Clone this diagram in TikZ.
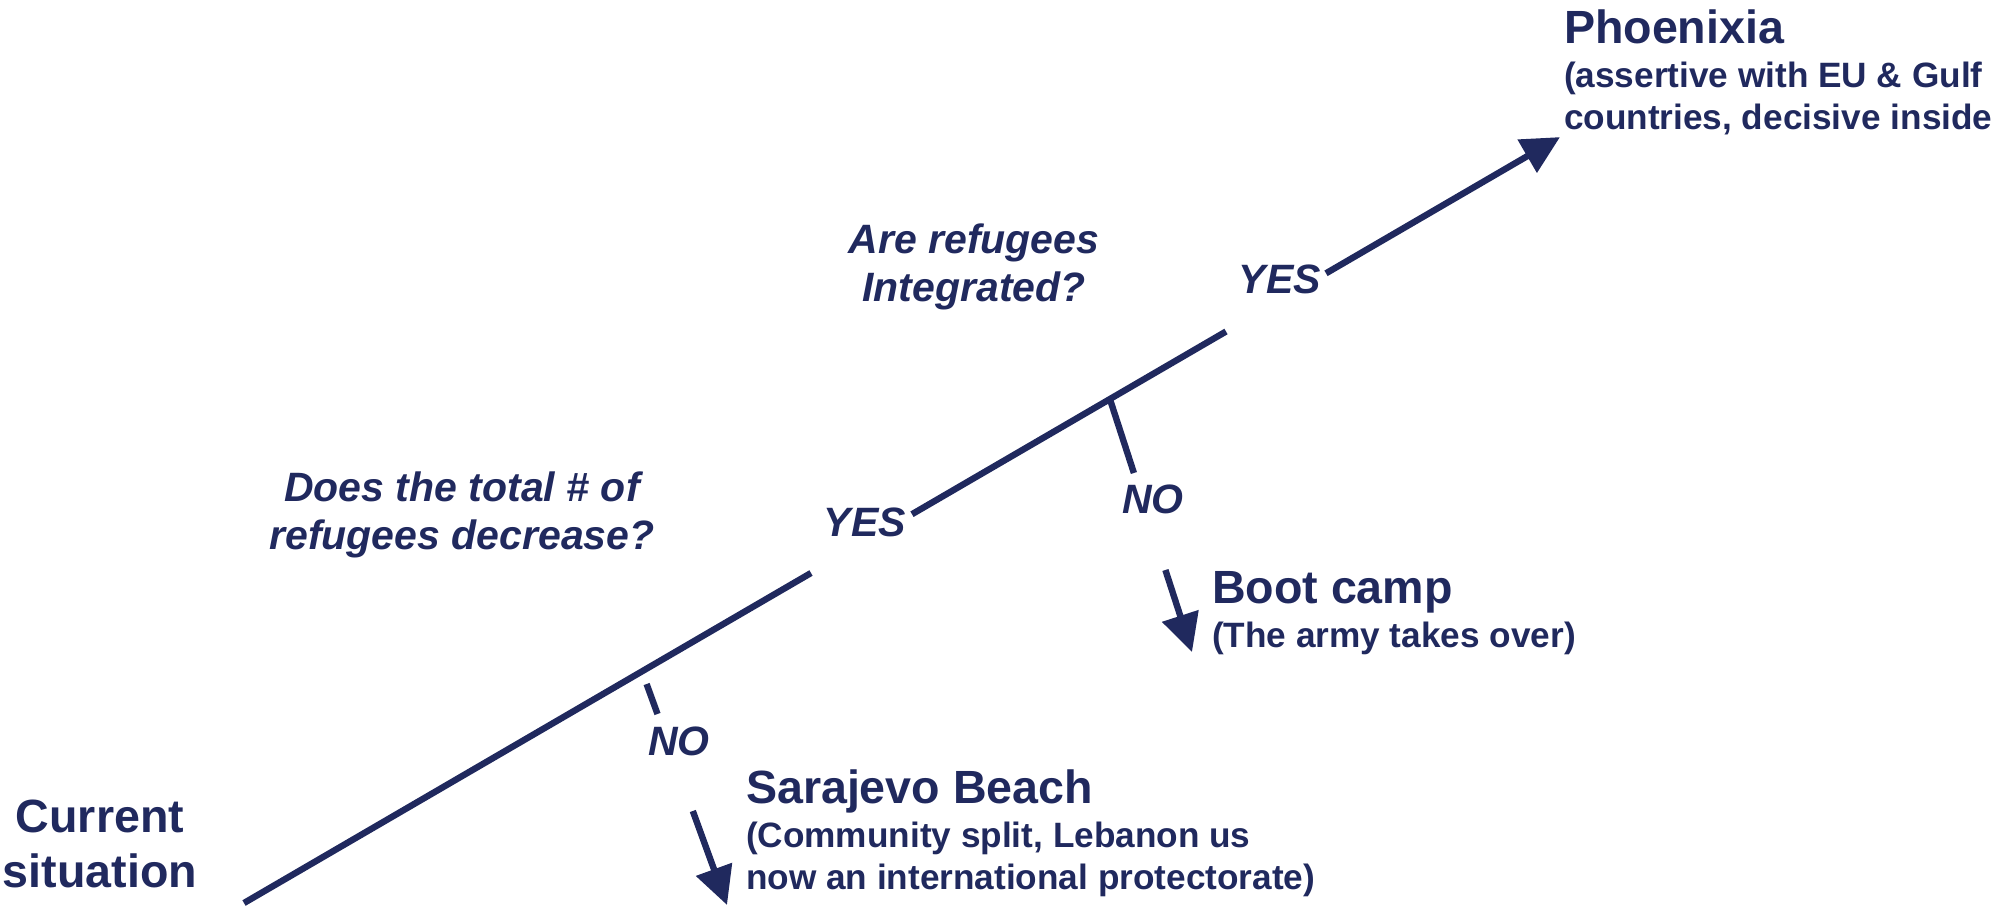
\documentclass[tikz,border=0pt]{standalone}
\usepackage{fontspec}
\setmainfont{Liberation Sans}
\usetikzlibrary{arrows.meta}
\definecolor{navy}{RGB}{32,41,94}
\begin{document}
\begin{tikzpicture}[x=0.5pt,y=-0.5pt,
  every node/.style={inner sep=0pt, outer sep=0pt, text=navy},
  branchline/.style={draw=navy, line width=3.2pt},
  arrowline/.style={draw=navy, line width=3.2pt, -{Triangle[length=19pt,width=18.5pt]}},
  titlefont/.style={font=\fontsize{23.3}{27.5}\selectfont\bfseries},
  qfont/.style={font=\fontsize{20.5}{24}\selectfont\bfseries\itshape},
  subfont/.style={font=\fontsize{17.6}{21}\selectfont\bfseries}]
\useasboundingbox (0,0) rectangle (1997,906);

% main line coordinates (y = 903 - 0.582 (x-244))
\coordinate (S)   at (244,903);
\coordinate (g1a) at (811,573);
\coordinate (g1b) at (912,514.2);
\coordinate (g2a) at (1226,331.5);
\coordinate (g2b) at (1326,273.3);
\coordinate (T)   at (1560,137.1);
% branch 1 (NO -> Sarajevo Beach)
\coordinate (n1a) at (646.6,684);
\coordinate (n1b) at (657.5,714);
\coordinate (n1c) at (692.8,811);
\coordinate (n1t) at (727,905);
% branch 2 (NO -> Boot camp)
\coordinate (B2)  at (1110,399.4);
\coordinate (n2b) at (1133.9,473);
\coordinate (n2c) at (1165.4,570);
\coordinate (n2t) at (1192,652);

\draw[branchline] (S) -- (g1a);
\draw[branchline] (g1b) -- (g2a);
\draw[arrowline] (g2b) -- (T);
\draw[branchline] (n1a) -- (n1b);
\draw[arrowline] (n1c) -- (n1t);
\draw[branchline] (B2) -- (n2b);
\draw[arrowline] (n2c) -- (n2t);

% texts
\node[titlefont, anchor=base] (cur) at (100,832)
  {\begin{tabular}[t]{@{}c@{}}Current\\situation\end{tabular}};

\node[qfont, anchor=base] (q1) at (462,501)
  {\begin{tabular}[t]{@{}c@{}}Does the total \# of\\refugees decrease?\end{tabular}};
\node[qfont, anchor=base] (q2) at (974,253)
  {\begin{tabular}[t]{@{}c@{}}Are refugees\\Integrated?\end{tabular}};

\node[qfont] (yes1) at (865,522) {YES};
\node[qfont] (yes2) at (1280,279) {YES};
\node[qfont] (no1) at (679,741) {NO};
\node[qfont] (no2) at (1153,499) {NO};

\node[subfont, anchor=base west] (phx) at (1564,43)
  {\begin{tabular}[t]{@{}l@{}}{\fontsize{23.3}{27.5}\selectfont Phoenixia}\\[1pt]
   (assertive with EU \& Gulf\\countries, decisive inside\end{tabular}};
\node[subfont, anchor=base west] (boot) at (1212,603)
  {\begin{tabular}[t]{@{}l@{}}{\fontsize{23.3}{27.5}\selectfont Boot camp}\\[1pt]
   (The army takes over)\end{tabular}};
\node[subfont, anchor=base west] (sar) at (746,803)
  {\begin{tabular}[t]{@{}l@{}}{\fontsize{23.3}{27.5}\selectfont Sarajevo Beach}\\[1pt]
   (Community split, Lebanon us\\now an international protectorate)\end{tabular}};
\end{tikzpicture}
\end{document}
